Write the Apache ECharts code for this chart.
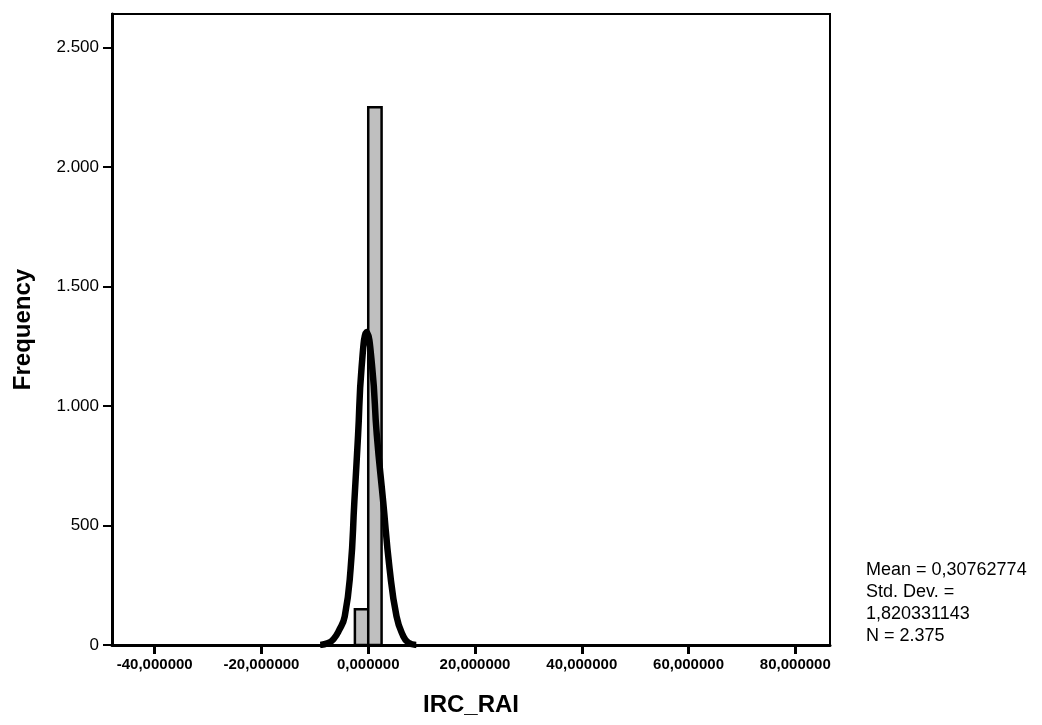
<!DOCTYPE html>
<html>
<head>
<meta charset="utf-8">
<script src="https://cdn.jsdelivr.net/npm/echarts@6/dist/echarts.min.js"></script>
<style>
  html, body { margin: 0; padding: 0; background: #fff; }
  #chart { width: 1042px; height: 725px; }
</style>
</head>
<body>
<div id="chart"></div>
<script>
// histogram bins (width 2.5) and counts
var binStart = [-2.5, 0];
var binEnd = [0, 2.5];
var counts = [150, 2250];

// fitted normal curve
var curveX = [-9, -7.5, -6.5, -5.5, -4.4, -3.3, -2.6, -1.9, -1.25, -0.3, 0.75, 1.6, 2.8, 4.0, 5.3, 6.5, 7.5, 9];
var curveY = [0, 8, 25, 60, 120, 320, 600, 880, 1160, 1310, 1160, 880, 600, 320, 120, 40, 10, 0];

var xTicks = [-40, -20, 0, 20, 40, 60, 80];
var yTicks = [0, 500, 1000, 1500, 2000, 2500];

var statsLines = ['Mean = 0,30762774', 'Std. Dev. =', '1,820331143', 'N = 2.375'];

function fmtX(v) {
  return v.toFixed(6).replace('.', ',');
}
function fmtY(v) {
  return v >= 1000 ? Math.floor(v / 1000) + '.' + String(v % 1000).padStart(3, '0') : String(v);
}

var bins = binStart.map(function (s, i) { return [s, binEnd[i], counts[i]]; });
var curve = curveX.map(function (x, i) { return [x, curveY[i]]; });

var font = '"Liberation Sans", Arial, sans-serif';
var chart = echarts.init(document.getElementById('chart'));
chart.setOption({
  animation: false,
  textStyle: { fontFamily: font, color: '#000' },
  grid: {
    left: 112, right: 212, top: 14, bottom: 80,
    show: true, borderColor: '#000', borderWidth: 2, backgroundColor: 'transparent'
  },
  xAxis: {
    type: 'value', min: -48, max: 86.5,
    name: 'IRC_RAI', nameLocation: 'middle', nameGap: 48,
    nameTextStyle: { fontSize: 24, fontWeight: 'bold', color: '#000' },
    splitLine: { show: false },
    axisLine: { onZero: false, lineStyle: { color: '#000', width: 3 } },
    axisTick: { customValues: xTicks, length: 9, lineStyle: { color: '#000', width: 3 } },
    axisLabel: {
      customValues: xTicks, formatter: fmtX, margin: 12,
      fontSize: 15, fontWeight: 'bold', color: '#000'
    }
  },
  yAxis: {
    type: 'value', min: 0, max: 2640,
    name: 'Frequency', nameLocation: 'middle', nameGap: 77, nameRotate: 90,
    nameTextStyle: { fontSize: 24, fontWeight: 'bold', color: '#000' },
    splitLine: { show: false },
    axisLine: { show: true, onZero: false, lineStyle: { color: '#000', width: 3 } },
    axisTick: { show: true, customValues: yTicks, length: 9, lineStyle: { color: '#000', width: 2 } },
    axisLabel: { customValues: yTicks, formatter: fmtY, margin: 13, fontSize: 17, color: '#000' }
  },
  series: [
    {
      type: 'custom',
      data: bins,
      encode: { x: [0, 1], y: 2 },
      renderItem: function (params, api) {
        var p0 = api.coord([api.value(0), api.value(2)]);
        var p1 = api.coord([api.value(1), 0]);
        return {
          type: 'rect',
          shape: { x: p0[0], y: p0[1], width: p1[0] - p0[0], height: p1[1] - p0[1] },
          style: { fill: '#bfbfbf', stroke: '#000', lineWidth: 2.5 }
        };
      }
    },
    {
      type: 'line',
      data: curve,
      smooth: true,
      symbol: 'none',
      lineStyle: { color: '#000', width: 6.5 },
      z: 5
    }
  ],
  graphic: statsLines.map(function (t, i) {
    return {
      type: 'text', left: 866, top: 561 + i * 22,
      style: { text: t, fontSize: 18, fill: '#000', fontFamily: font }
    };
  })
});
</script>
</body>
</html>
